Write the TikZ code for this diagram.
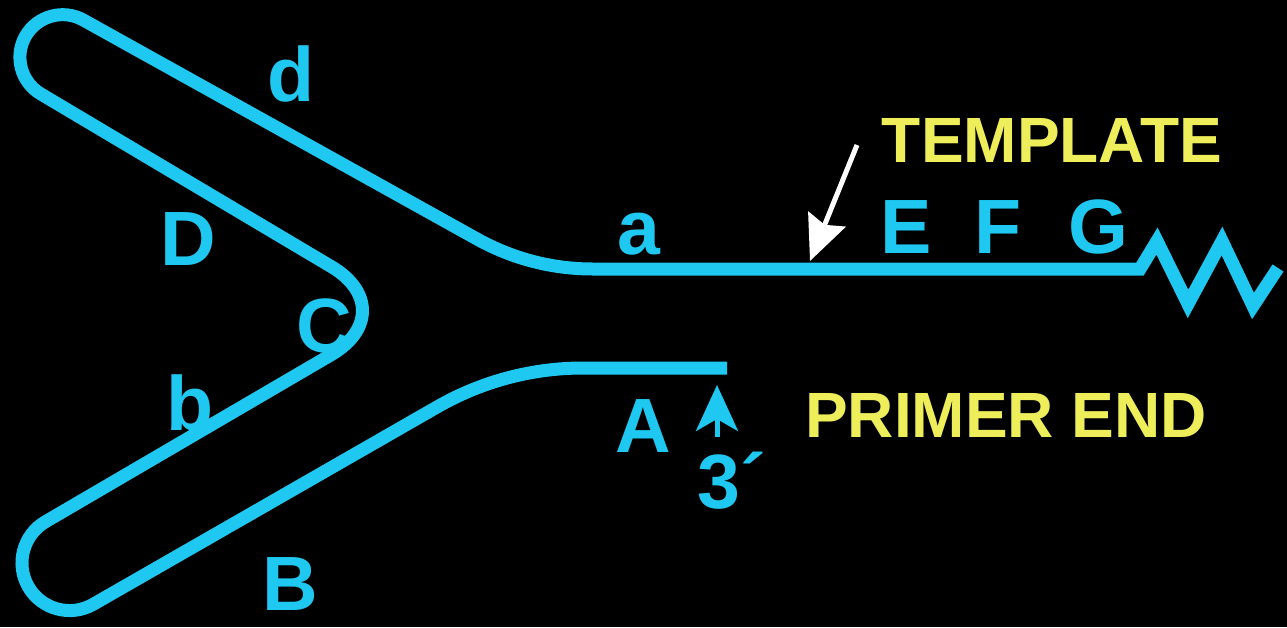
\documentclass[tikz,border=0pt]{standalone}
\usepackage{fontspec}
\setmainfont{Liberation Sans}
\usetikzlibrary{calc,arrows.meta}
\definecolor{dna}{RGB}{30,200,240}
\definecolor{lab}{RGB}{238,238,90}
\begin{document}
\begin{tikzpicture}[x=1pt,y=-1pt,
  strand/.style={draw=dna, line width=13pt},
  lbl/.style={text=dna, font=\fontsize{77}{80}\selectfont\bfseries, inner sep=0pt, anchor=base},
  ylbl/.style={text=lab, font=\fontsize{64}{70}\selectfont\bfseries, inner sep=0pt, anchor=base}]
\fill[black] (0,0) rectangle (1287,627);
\useasboundingbox (0,0) rectangle (1287,627);
% key points of the strand
\coordinate (P0) at (727,368);
\coordinate (K1) at (505,368);
\coordinate (Q1) at (52.1,627.9);
\coordinate (Q2) at (4.6,545.6);
\coordinate (V)  at (406,311);
\coordinate (T1) at (4.6,72.4);
\coordinate (T2) at (46.6,-0.4);
\coordinate (K2) at (531,269);
\coordinate (Z0) at (1140,269);
\coordinate (Z1) at (1157,241);
\coordinate (Z2) at (1188,304);
\coordinate (Z3) at (1222,241);
\coordinate (Z4) at (1253,306);
\coordinate (Z5) at (1278,268);
\draw[strand]
  (P0) -- ($(K1)!78pt!(P0)$)
  .. controls ($(K1)!27pt!(P0)$) and ($(K1)!27pt!(Q1)$) .. ($(K1)!78pt!(Q1)$)
  -- ($(Q1)!47.5pt!(K1)$)
  .. controls ($(Q1)!21.3pt!(K1)$) and ($(Q1)!21.3pt!(Q2)$) .. ($(Q1)!47.5pt!(Q2)$)
  .. controls ($(Q2)!21.3pt!(Q1)$) and ($(Q2)!21.3pt!(V)$) .. ($(Q2)!47.5pt!(V)$)
  -- ($(V)!86.6pt!(Q2)$)
  .. controls ($(V)!38.5pt!(Q2)$) and ($(V)!38.5pt!(T1)$) .. ($(V)!86.6pt!(T1)$)
  -- ($(T1)!42pt!(V)$)
  .. controls ($(T1)!18.8pt!(V)$) and ($(T1)!18.8pt!(T2)$) .. ($(T1)!42pt!(T2)$)
  .. controls ($(T2)!18.8pt!(T1)$) and ($(T2)!18.8pt!(K2)$) .. ($(T2)!42pt!(K2)$)
  -- ($(K2)!62pt!(T2)$)
  .. controls ($(K2)!21pt!(T2)$) and ($(K2)!21pt!(Z0)$) .. ($(K2)!62pt!(Z0)$)
  -- (Z0) -- (Z1) -- (Z2) -- (Z3) -- (Z4) -- (Z5);
% labels on the strand
\node[lbl] (ld) at (291,101) {d};
\node[lbl] (lD) at (188,265) {D};
\node[lbl] (lC) at (324,352) {C};
\node[lbl] (lb) at (190,430) {b};
\node[lbl] (lB) at (290,610) {B};
\node[lbl] (la) at (639,254) {a};
\node[lbl] (lE) at (906,253) {E};
\node[lbl] (lF) at (998,253) {F};
\node[lbl] (lG) at (1098,253) {G};
\node[lbl] (lA) at (643,452) {A};
\node[lbl, anchor=base west] (l3) at (697,508) {3´};
% primer end arrow
\coordinate (ptail) at (717,437);
\coordinate (ptip) at (717,385);
\draw[draw=dna, line width=5pt, -{Stealth[length=46pt,width=42pt,inset=12pt]}] (ptail) -- (ptip);
% yellow captions
\node[ylbl] (template) at (1052,162) {TEMPLATE};
\node[ylbl] (primer) at (1006,437) {PRIMER END};
% white arrow to template strand
\coordinate (wtail) at (857,145);
\coordinate (wtip) at (810,261);
\draw[white, line width=5pt, -{Stealth[length=45pt,width=40pt,inset=6pt]}] (wtail) -- (wtip);
\end{tikzpicture}
\end{document}
